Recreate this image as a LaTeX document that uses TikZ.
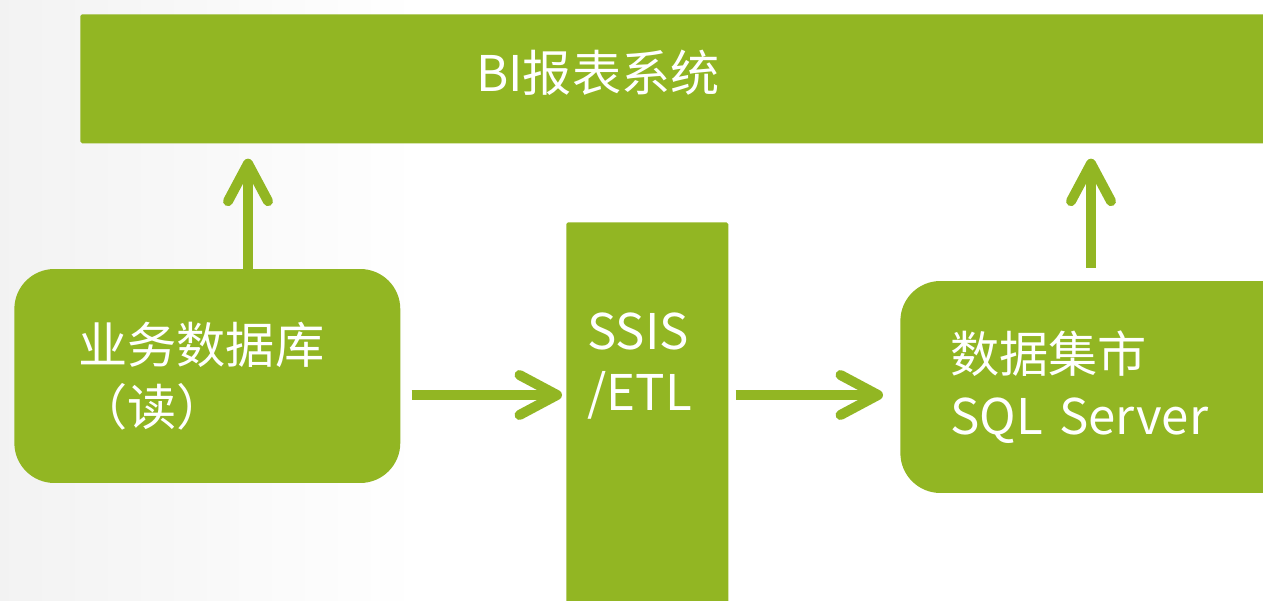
\documentclass[tikz,border=0pt]{standalone}
\usepackage{fontspec}
\setmainfont{Noto Sans CJK SC}
\usetikzlibrary{arrows.meta}
\definecolor{biGreen}{HTML}{92B623}
\begin{document}
\begin{tikzpicture}[x=0.02cm,y=-0.02cm,
  box/.style={fill=biGreen, text=white, font=\fontsize{28}{35}\selectfont},
  boxtext/.style={text=white, inner sep=0pt, font=\fontsize{28}{35}\selectfont},
  flow/.style={draw=biGreen, line width=0.2cm, -{Straight Barb[length=0.75cm,width=0.8cm,round]}}]
\useasboundingbox (0,0) rectangle (1263,601);
\clip (0,0) rectangle (1263,601);
\fill[left color=black!5, right color=white] (0,0) rectangle (420,601);

\node[box, anchor=north west, minimum width=24cm, minimum height=2.58cm, rounded corners=1pt] (bi) at (80,14) {};
\node[boxtext] (bitext) at (598,73) {BI报表系统};

\node[box, anchor=west, align=left, text width=5.16cm, inner xsep=1.28cm, minimum height=4.28cm, rounded corners=0.8cm] (db) at (14,376) {业务数据库\\（读）};
\node[box, anchor=north west, minimum width=3.24cm, minimum height=8cm, rounded corners=1pt] (etl) at (566,222) {};
\node[boxtext, anchor=west, align=left] (etltext) at (587,366) {SSIS\\/ETL};
\node[box, anchor=west, align=left, text width=6cm, inner xsep=1cm, minimum height=4.24cm, rounded corners=0.8cm] (dm) at (900,387) {数据集市\\SQL Server};

\coordinate (upL) at (248,0);
\coordinate (upR) at (1091,0);
\coordinate (row) at (0,395);

\path[draw,flow,shorten >=0.3cm] (db.north -| upL) -- (bi.south -| upL);
\path[draw,flow,shorten <=0.26cm,shorten >=0.3cm] (dm.north -| upR) -- (bi.south -| upR);
\path[draw,flow,shorten <=0.22cm,shorten >=0.08cm] (db.east |- row) -- (etl.west |- row);
\path[draw,flow,shorten <=0.14cm,shorten >=0.34cm] (etl.east |- row) -- (dm.west |- row);
\end{tikzpicture}
\end{document}
